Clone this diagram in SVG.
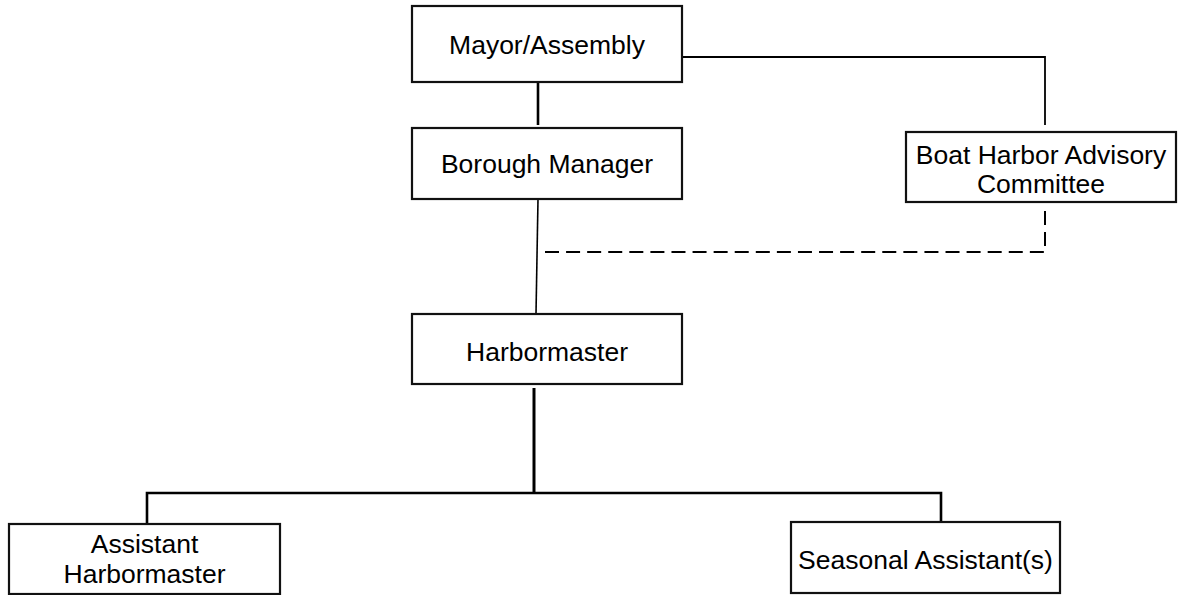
<svg xmlns="http://www.w3.org/2000/svg" width="1179" height="595" viewBox="0 0 1179 595">
  <style>
    .box { fill: #ffffff; stroke: #111111; stroke-width: 2.2; }
    .lbl { font-family: "Liberation Sans", Arial, sans-serif; font-size: 26.5px; fill: #000000; text-anchor: middle; }
    .ln { fill: none; stroke: #000000; stroke-linecap: butt; }
    .dash { stroke-dasharray: 14 7.08; }
  </style>
  <rect width="1179" height="595" fill="#ffffff"/>

  <!-- reporting lines -->
  <g id="connectors">
    <line class="ln" x1="538" y1="82" x2="538" y2="125" stroke-width="2.6"/>
    <polyline class="ln" points="682,57 1045,57 1045,125" stroke-width="1.8"/>
    <line class="ln" x1="538" y1="199" x2="536" y2="314" stroke-width="1.6"/>
    <polyline class="ln dash" points="1045,211 1045,252 545,252" stroke-width="2"/>
    <line class="ln" x1="534" y1="388" x2="534" y2="493" stroke-width="3"/>
    <polyline class="ln" points="147,524 147,493 941,493 941,522" stroke-width="2.6"/>
  </g>

  <g id="mayor">
    <rect class="box" x="412" y="6" width="270" height="76"/>
    <text class="lbl" x="547" y="54">Mayor/Assembly</text>
  </g>

  <g id="borough-manager">
    <rect class="box" x="412" y="128" width="270" height="71"/>
    <text class="lbl" x="547" y="173">Borough Manager</text>
  </g>

  <g id="advisory-committee">
    <rect class="box" x="906" y="132" width="270" height="70"/>
    <text class="lbl" x="1041" y="164">Boat Harbor Advisory</text>
    <text class="lbl" x="1041" y="193">Committee</text>
  </g>

  <g id="harbormaster">
    <rect class="box" x="412" y="314" width="270" height="70"/>
    <text class="lbl" x="547" y="361">Harbormaster</text>
  </g>

  <g id="assistant-harbormaster">
    <rect class="box" x="9" y="524" width="271" height="70"/>
    <text class="lbl" x="144.5" y="553">Assistant</text>
    <text class="lbl" x="144.5" y="583">Harbormaster</text>
  </g>

  <g id="seasonal-assistants">
    <rect class="box" x="791" y="522" width="269" height="71"/>
    <text class="lbl" x="925.5" y="569">Seasonal Assistant(s)</text>
  </g>
</svg>
